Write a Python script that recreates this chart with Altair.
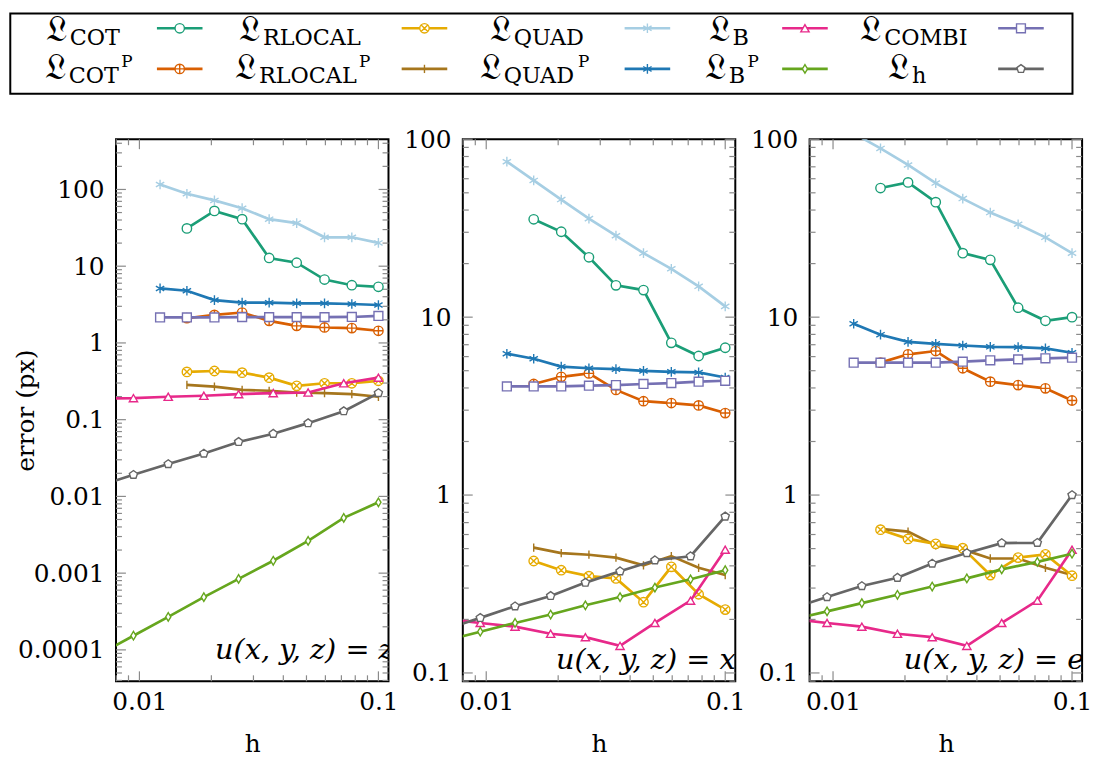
import altair as alt
import pandas as pd

# ---------------- data ----------------
H_A = [0.00674, 0.00944, 0.0132, 0.0186, 0.0260, 0.0363, 0.0508, 0.0716, 0.1]
H_B = [0.0122, 0.0158, 0.0206, 0.0269, 0.0349, 0.0455, 0.0595, 0.0774, 0.1]

P1_COT = [None, 31.1, 52.5, 41.0, 12.8, 11.1, 6.7, 5.65, 5.39]
P1_RLOCAL = [None, 0.419, 0.431, 0.41, 0.353, 0.276, 0.298, 0.298, 0.321]
P1_QUAD = [116, 88, 72, 57, 41, 36.4, 23.8, 23.8, 20.1]
P1_B = [0.188, 0.191, 0.199, 0.205, 0.215, 0.222, 0.226, 0.298, 0.353]
P1_COMBI = [2.15, 2.15, 2.15, 2.17, 2.17, 2.17, 2.17, 2.18, 2.25]
P1_COTP = [None, 2.10, 2.32, 2.49, 1.94, 1.67, 1.59, 1.56, 1.44]
P1_RLOCALP = [None, 0.284, 0.270, 0.245, 0.238, 0.226, 0.222, 0.215, 0.199]
P1_QUADP = [5.13, 4.79, 3.62, 3.35, 3.35, 3.28, 3.28, 3.22, 3.12]
P1_BP = [8.65e-5, 1.53e-4, 2.69e-4, 4.87e-4, 8.41e-4, 1.45e-3, 2.63e-3, 5.25e-3, 8.37e-3]
P1_H = [0.0137, 0.0191, 0.0264, 0.0362, 0.0513, 0.0656, 0.0901, 0.129, 0.222]

P2_COT = [None, 35.5, 30.2, 21.7, 15.1, 14.2, 7.17, 6.05, 6.73]
P2_RLOCAL = [None, 0.426, 0.378, 0.35, 0.34, 0.25, 0.395, 0.277, 0.227]
P2_QUAD = [74.8, 58.7, 45.8, 35.8, 28.7, 22.9, 18.7, 14.9, 11.5]
P2_B = [0.201, 0.191, 0.182, 0.166, 0.159, 0.142, 0.191, 0.255, 0.493]
P2_COMBI = [4.08, 4.08, 4.08, 4.12, 4.15, 4.21, 4.26, 4.34, 4.39]
P2_COTP = [None, 4.21, 4.62, 4.83, 3.90, 3.37, 3.29, 3.19, 2.89]
P2_RLOCALP = [None, 0.506, 0.472, 0.462, 0.445, 0.403, 0.454, 0.39, 0.355]
P2_QUADP = [6.23, 5.84, 5.27, 5.16, 5.10, 4.99, 4.93, 4.89, 4.58]
P2_BP = [0.152, 0.1705, 0.191, 0.213, 0.24, 0.267, 0.302, 0.336, 0.378]
P2_H = [0.176, 0.204, 0.237, 0.271, 0.322, 0.373, 0.43, 0.453, 0.758]

P3_COT = [None, 53.2, 57.2, 44.3, 22.9, 21.0, 11.3, 9.54, 10.0]
P3_RLOCAL = [None, 0.639, 0.567, 0.532, 0.503, 0.355, 0.445, 0.464, 0.352]
P3_QUAD = [108, 88.8, 71.7, 56.7, 46.4, 38.7, 33.3, 28.1, 22.9]
P3_B = [0.201, 0.191, 0.182, 0.166, 0.159, 0.142, 0.191, 0.255, 0.493]
P3_COMBI = [5.55, 5.55, 5.55, 5.55, 5.62, 5.72, 5.79, 5.87, 5.92]
P3_COTP = [None, 5.55, 6.18, 6.45, 5.16, 4.34, 4.15, 3.98, 3.40]
P3_RLOCALP = [None, 0.645, 0.623, 0.521, 0.495, 0.44, 0.44, 0.39, 0.355]
P3_QUADP = [9.18, 7.97, 7.26, 7.08, 6.93, 6.81, 6.78, 6.67, 6.31]
P3_BP = [0.199, 0.222, 0.247, 0.275, 0.306, 0.34, 0.382, 0.421, 0.468]
P3_H = [0.231, 0.267, 0.308, 0.343, 0.412, 0.472, 0.537, 0.539, 1.0]

NOTES = ["u(x, y, z) = z", "u(x, y, z) = x", "u(x, y, z) = e"]
X_LABELS = [0.01, 0.1]
Y1_LABELS = [0.0001, 0.001, 0.01, 0.1, 1, 10, 100]
Y2_LABELS = [0.1, 1, 10, 100]
LEG_SUB = ["COT", "RLOCAL", "QUAD", "B", "COMBI", "COT", "RLOCAL", "QUAD", "B", "h"]
LEG_SUP = ["", "", "", "", "", "P", "P", "P", "P", ""]

# ---------------- styles ----------------
SERIES = ["cot", "rlocal", "quad", "b", "combi", "cotp", "rlocalp", "quadp", "bp", "h"]
DRAW_ORDER = ["cotp", "rlocalp", "rlocal", "cot", "quad", "quadp", "combi", "b", "bp", "h"]
GRID = {"cot": "B", "rlocal": "B", "quad": "B", "b": "A", "combi": "B",
        "cotp": "B", "rlocalp": "B", "quadp": "B", "bp": "A", "h": "A"}
COLOR = {"cot": "#1b9e77", "rlocal": "#e6ab02", "quad": "#a6cee3", "b": "#e7298a",
         "combi": "#7570b3", "cotp": "#d95f02", "rlocalp": "#a6761d", "quadp": "#1f78b4",
         "bp": "#66a61e", "h": "#666666"}
CIRC = "M1,0A1,1,0,1,1,-1,0A1,1,0,1,1,1,0Z"
SHAPE = {"cot": "circle",
         "rlocal": CIRC + "M-0.707,-0.707L0.707,0.707M-0.707,0.707L0.707,-0.707",
         "quad": "M0,-1L0,1M-0.866,-0.5L0.866,0.5M-0.866,0.5L0.866,-0.5",
         "b": "triangle-up",
         "combi": "square",
         "cotp": CIRC + "M-1,0L1,0M0,-1L0,1",
         "rlocalp": "M0,-1L0,1",
         "quadp": "M0,-1L0,1M-0.866,-0.5L0.866,0.5M-0.866,0.5L0.866,-0.5",
         "bp": "M0,-1L0.6,0L0,1L-0.6,0Z",
         "h": "M0,-1L0.951,-0.309L0.588,0.809L-0.588,0.809L-0.951,-0.309Z"}
MSIZE = {"cot": 90, "rlocal": 90, "quad": 95, "b": 70, "combi": 80, "cotp": 90,
         "rlocalp": 70, "quadp": 95, "bp": 75, "h": 75}

FONT = "DejaVu Serif"
W, H = 275, 547
XDOM = [0.00798, 0.1102]
YDOM1 = [3.9e-5, 451]
YDOM2 = [0.0898, 100]
TICK = "#8a8a8a"
MAJ, MIN = 10, 6


def minors(dom, lo, hi):
    out = []
    for d in range(lo, hi):
        for k in range(2, 10):
            v = k * 10.0 ** d
            if dom[0] <= v <= dom[1]:
                out.append(v)
    return out


def panel(values, ydom, ylabels, note, nx, ny, ytitle):
    XS = alt.Scale(type="log", domain=XDOM, nice=False)
    YS = alt.Scale(type="log", domain=ydom, nice=False)
    xax = alt.Axis(values=X_LABELS, format="~g", ticks=False, tickSize=0, domain=False,
                   grid=False, labelFont=FONT, labelFontSize=25, labelColor="black",
                   labelPadding=8, labelFlush=False, labelOverlap=False,
                   titleFont=FONT, titleFontSize=25, titleFontWeight="normal",
                   titleColor="black", titleBaseline="alphabetic", titleY=71)
    yargs = dict(values=ylabels, format="~g", ticks=False, tickSize=0, domain=False,
                 grid=False, labelFont=FONT, labelFontSize=25, labelColor="black",
                 labelPadding=12, labelFlush=False, labelOverlap=False,
                 titleFont=FONT, titleFontSize=25, titleFontWeight="normal",
                 titleColor="black")
    if ytitle:
        yargs.update(titleX=-78, titleY=H / 2, titleBaseline="bottom")
    yax = alt.Axis(**yargs)

    def Xf(f):
        return alt.X(f + ":Q", scale=XS, axis=xax, title="h")

    def Yf(f):
        if ytitle:
            return alt.Y(f + ":Q", scale=YS, axis=yax, title=ytitle)
        return alt.Y(f + ":Q", scale=YS, axis=yax, title=None)

    layers = []
    ymaj = [v for v in ylabels if ydom[0] <= v <= ydom[1]]
    ymin = minors(ydom, -5, 3)
    xmaj = [v for v in X_LABELS if XDOM[0] <= v <= XDOM[1]]
    xmin = minors(XDOM, -3, -1)
    for vals, L in [(ymaj, MAJ), (ymin, MIN)]:
        base = alt.Chart(pd.DataFrame({"v": vals})).mark_rule(stroke=TICK, strokeWidth=1.2)
        layers.append(base.encode(y=Yf("v"), x=alt.value(0), x2=alt.value(L)))
        layers.append(base.encode(y=Yf("v"), x=alt.value(W), x2=alt.value(W - L)))
    for vals, L in [(xmaj, MAJ), (xmin, MIN)]:
        base = alt.Chart(pd.DataFrame({"v": vals})).mark_rule(stroke=TICK, strokeWidth=1.2)
        layers.append(base.encode(x=Xf("v"), y=alt.value(H), y2=alt.value(H - L)))
        layers.append(base.encode(x=Xf("v"), y=alt.value(0), y2=alt.value(L)))

    for s in DRAW_ORDER:
        hs = H_A if GRID[s] == "A" else H_B
        rows = [(h, e) for h, e in zip(hs, values[s]) if e is not None]
        df = pd.DataFrame(rows, columns=["h", "e"])
        c = alt.Chart(df)
        layers.append(c.mark_line(stroke=COLOR[s], strokeWidth=2.7, clip=True)
                      .encode(x=Xf("h"), y=Yf("e")))
        layers.append(c.mark_point(shape=SHAPE[s], stroke=COLOR[s], fill="white",
                                   filled=True, size=MSIZE[s], strokeWidth=1.4,
                                   opacity=1, fillOpacity=1, strokeOpacity=1, clip=True)
                      .encode(x=Xf("h"), y=Yf("e")))

    layers.append(alt.Chart(pd.DataFrame({"t": [note]}))
                  .mark_text(align="left", baseline="alphabetic", font=FONT,
                             fontStyle="italic", fontSize=29, color="black", clip=True)
                  .encode(text="t:N", x=alt.value(nx), y=alt.value(ny)))
    return alt.layer(*layers).properties(width=W, height=H)


def vals(prefix):
    g = globals()
    return {s: g[prefix + s.upper()] for s in SERIES}


p1 = panel(vals("P1_"), YDOM1, Y1_LABELS, NOTES[0], 100, 525, "error (px)")
p2 = panel(vals("P2_"), YDOM2, Y2_LABELS, NOTES[1], 94, 535, "")
p3 = panel(vals("P3_"), YDOM2, Y2_LABELS, NOTES[2], 95, 535, "")

# ---------------- legend ----------------
PL, BT = 115.7, 9.0          # page position of panel 1 left edge, legend box top
BOX = (9, 9, 1081, 90)
SYM_X = [180, 427, 652, 811, 1029]
SYM_Y = [24, 65]
SUB_X = [69, 264, 517, 738, 891, 68, 260, 507, 734, 919]
L_X = [v - 24 for v in SUB_X]
SUP_X = [0, 0, 0, 0, 0, 121, 361, 582, 753, 0]
L_Y = [37, 75]
SUB_Y = [40.5, 79]
SUP_Y = 63

sym_rows, l_rows, sub_rows, sup_rows = [], [], [], []
for i, s in enumerate(SERIES):
    r, c = divmod(i, 5)
    sym_rows.append({"x1": SYM_X[c] - 23 - PL, "x2": SYM_X[c] + 23 - PL, "xm": SYM_X[c] - PL,
                     "y": SYM_Y[r] - BT, "col": COLOR[s], "shp": SHAPE[s], "sz": MSIZE[s]})
    l_rows.append({"x": L_X[i] - PL, "y": L_Y[r] - BT, "t": "\U0001D50F"})
    sub_rows.append({"x": SUB_X[i] - PL, "y": SUB_Y[r] - BT, "t": LEG_SUB[i]})
    if LEG_SUP[i]:
        sup_rows.append({"x": SUP_X[i] - PL, "y": SUP_Y - BT, "t": LEG_SUP[i]})

sym_df = pd.DataFrame(sym_rows)
box = (alt.Chart(pd.DataFrame({"k": [0]}))
       .mark_rect(fill="white", stroke="black", strokeWidth=2)
       .encode(x=alt.value(BOX[0] - PL), x2=alt.value(BOX[2] - PL),
               y=alt.value(BOX[1] - BT), y2=alt.value(BOX[3] - BT)))
seg = (alt.Chart(sym_df).mark_rule(strokeWidth=2.7)
       .encode(x=alt.X("x1:Q", scale=None, axis=None), x2="x2:Q",
               y=alt.Y("y:Q", scale=None, axis=None),
               color=alt.Color("col:N", scale=None)))
pts = (alt.Chart(sym_df).mark_point(filled=True, fill="white", strokeWidth=1.4, opacity=1)
       .encode(x=alt.X("xm:Q", scale=None, axis=None), y=alt.Y("y:Q", scale=None, axis=None),
               stroke=alt.Stroke("col:N", scale=None), shape=alt.Shape("shp:N", scale=None),
               size=alt.Size("sz:Q", scale=None)))


def txt(rows, size):
    return (alt.Chart(pd.DataFrame(rows))
            .mark_text(align="left", baseline="alphabetic", font=FONT, fontSize=size, color="black")
            .encode(x=alt.X("x:Q", scale=None, axis=None), y=alt.Y("y:Q", scale=None, axis=None),
                    text="t:N"))


legend = alt.layer(box, seg, pts, txt(l_rows, 36), txt(sub_rows, 22.5), txt(sup_rows, 17)).properties(
    width=W, height=81, view=alt.ViewBackground(stroke="transparent"))

panels = alt.hconcat(p1, p2, p3, spacing=75, bounds="flush")
chart = alt.vconcat(legend, panels, spacing=46, bounds="flush", padding=0).configure_view(
    stroke="black", strokeWidth=2)

chart.save("out.html", embed_options={"renderer": "svg", "actions": False})
